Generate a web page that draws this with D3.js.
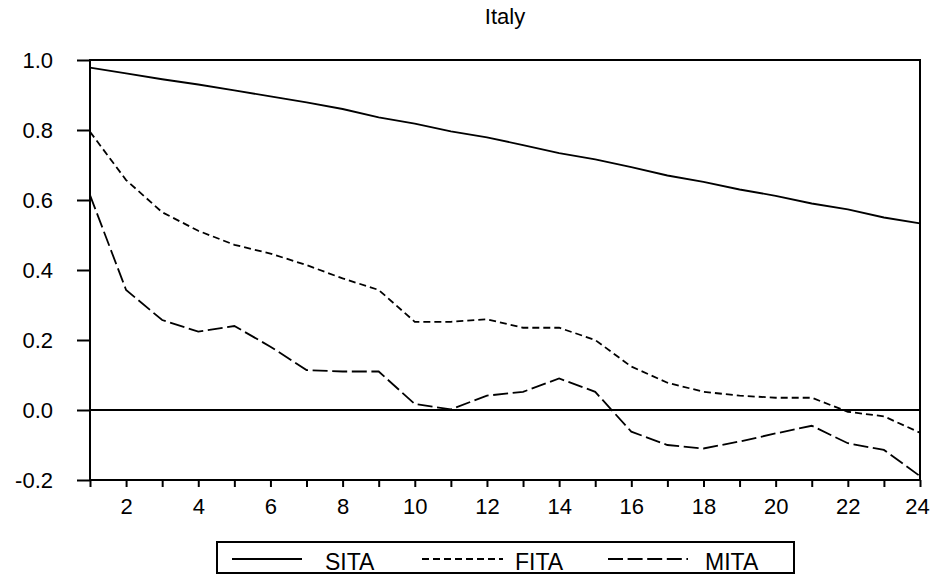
<!DOCTYPE html>
<html>
<head>
<meta charset="utf-8">
<script src="https://cdn.jsdelivr.net/npm/d3@7"></script>
<style>
  html, body { margin: 0; padding: 0; background: #fff; }
  svg { display: block; font-family: "Liberation Sans", Arial, sans-serif; }
</style>
</head>
<body>
<svg id="chart" width="930" height="576"></svg>
<script>
const title = "Italy";
const periods = d3.range(1, 25);
const xTickLabels = [2, 4, 6, 8, 10, 12, 14, 16, 18, 20, 22, 24];
const yTickValues = [-0.2, 0.0, 0.2, 0.4, 0.6, 0.8, 1.0];
const seriesNames = ["SITA", "FITA", "MITA"];

const SITA = [0.978, 0.962, 0.945, 0.930, 0.913, 0.896, 0.879, 0.860, 0.836, 0.818, 0.796, 0.779,
              0.757, 0.734, 0.716, 0.694, 0.670, 0.652, 0.630, 0.612, 0.590, 0.573, 0.550, 0.533];
const FITA = [0.795, 0.657, 0.565, 0.512, 0.472, 0.447, 0.414, 0.376, 0.343, 0.252, 0.252, 0.259,
              0.235, 0.235, 0.200, 0.124, 0.078, 0.052, 0.041, 0.035, 0.035, -0.005, -0.018, -0.065];
const MITA = [0.614, 0.343, 0.257, 0.224, 0.240, 0.181, 0.114, 0.110, 0.110, 0.017, 0.002, 0.041,
              0.052, 0.090, 0.052, -0.062, -0.100, -0.110, -0.090, -0.067, -0.045, -0.095, -0.114, -0.189];

const seriesData = [SITA, FITA, MITA];
const dashes = [null, "7,4", "15,4.6"];
const FONT = "'Liberation Sans', Arial, sans-serif";

const svg = d3.select("#chart");
const x = d3.scaleLinear().domain([1, 24]).range([90, 920]);
const y = d3.scaleLinear().domain([-0.2, 1.0]).range([480, 60]);

// title
svg.append("text")
  .attr("x", (x.range()[0] + x.range()[1]) / 2)
  .attr("y", 24)
  .attr("text-anchor", "middle")
  .attr("font-size", 22)
  .attr("fill", "#000")
  .text(title);

// y axis
const yAxis = d3.axisLeft(y).tickValues(yTickValues)
  .tickFormat(d => d3.format(".1f")(d).replace("\u2212", "-"))
  .tickSize(13).tickPadding(24);
const gy = svg.append("g").attr("transform", `translate(${x(1)},0)`).call(yAxis);
gy.select(".domain").remove();
gy.selectAll(".tick line").attr("stroke", "#000").attr("stroke-width", 2);
gy.selectAll(".tick text").attr("font-size", 22).attr("fill", "#000").attr("font-family", FONT);

// x axis
const xAxis = d3.axisBottom(x).tickValues(periods).tickSize(7).tickPadding(11)
  .tickFormat(d => xTickLabels.includes(d) ? String(d) : "");
const gx = svg.append("g").attr("transform", `translate(0,${y(-0.2)})`).call(xAxis);
gx.select(".domain").remove();
gx.selectAll(".tick line").attr("stroke", "#000").attr("stroke-width", 2);
gx.selectAll(".tick text").attr("font-size", 22).attr("fill", "#000").attr("font-family", FONT)
  .attr("dx", d => d === 24 ? -3 : 0);

// zero line
svg.append("line")
  .attr("x1", x(1)).attr("x2", x(24))
  .attr("y1", y(0)).attr("y2", y(0))
  .attr("stroke", "#000").attr("stroke-width", 2);

// series lines
const line = d3.line().x((d, i) => x(periods[i])).y(d => y(d));
seriesData.forEach((s, k) => {
  svg.append("path")
    .datum(s)
    .attr("d", line)
    .attr("fill", "none")
    .attr("stroke", "#000")
    .attr("stroke-width", 1.8)
    .attr("stroke-dasharray", dashes[k]);
});

// frame
svg.append("rect")
  .attr("x", x(1)).attr("y", y(1.0))
  .attr("width", x(24) - x(1)).attr("height", y(-0.2) - y(1.0))
  .attr("fill", "none").attr("stroke", "#000").attr("stroke-width", 2);

// legend
const legend = svg.append("g");
legend.append("rect")
  .attr("x", 217).attr("y", 542).attr("width", 577).attr("height", 31)
  .attr("fill", "none").attr("stroke", "#000").attr("stroke-width", 2);
const legItems = [
  { x1: 232, x2: 302, tx: 325 },
  { x1: 422, x2: 503, tx: 515 },
  { x1: 608, x2: 688, tx: 705 }
];
legItems.forEach((it, k) => {
  legend.append("line")
    .attr("x1", it.x1).attr("x2", it.x2).attr("y1", 559).attr("y2", 559)
    .attr("stroke", "#000").attr("stroke-width", 1.8)
    .attr("stroke-dasharray", dashes[k]);
  legend.append("text")
    .attr("x", it.tx).attr("y", 570)
    .attr("font-size", 23).attr("fill", "#000").attr("font-family", FONT)
    .text(seriesNames[k]);
});
</script>
</body>
</html>
